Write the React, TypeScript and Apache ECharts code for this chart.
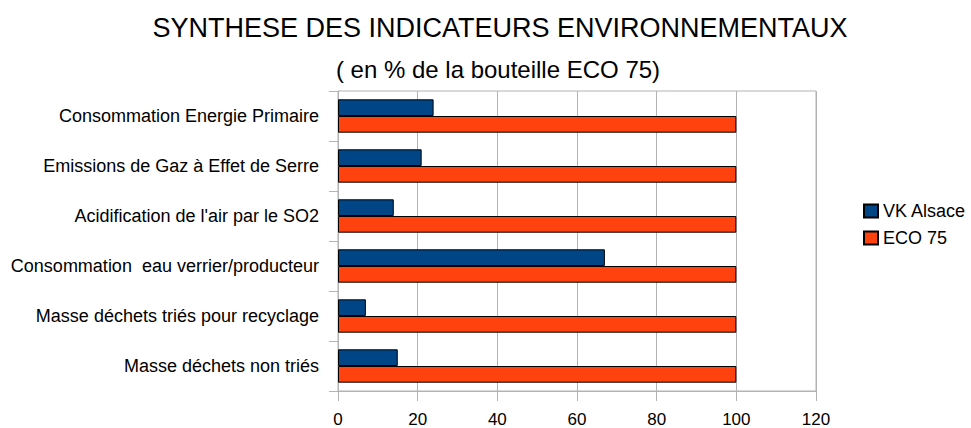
import React, { useEffect, useRef } from "react";
import * as echarts from "echarts";

const categories = [
  "Consommation Energie Primaire",
  "Emissions de Gaz à Effet de Serre",
  "Acidification de l'air par le SO2",
  "Consommation  eau verrier/producteur",
  "Masse déchets triés pour recyclage",
  "Masse déchets non triés",
];
const vkAlsace = [24, 21, 14, 67, 7, 15];
const eco75 = [100, 100, 100, 100, 100, 100];
const seriesNames = ["VK Alsace", "ECO 75"];

const FONT = "'Liberation Sans', Arial, sans-serif";

export default function App() {
  const ref = useRef<HTMLDivElement>(null);
  useEffect(() => {
    if (!ref.current) return;
    const chart = echarts.init(ref.current, null, { renderer: "svg" });
    chart.setOption({
      animation: false,
      backgroundColor: "#ffffff",
      title: [
        {
          text: "SYNTHESE DES INDICATEURS ENVIRONNEMENTAUX",
          left: 495,
          textAlign: "center",
          top: 9,
          textStyle: { fontFamily: FONT, fontSize: 27, fontWeight: "normal", color: "#000" },
        },
        {
          text: "( en % de la bouteille ECO 75)",
          left: 493,
          textAlign: "center",
          top: 52,
          textStyle: { fontFamily: FONT, fontSize: 24, fontWeight: "normal", color: "#000" },
        },
      ],
      legend: {
        orient: "vertical",
        left: 858,
        top: 197,
        itemWidth: 14,
        itemHeight: 13,
        itemGap: 9,
        icon: "rect",
        data: seriesNames,
        textStyle: { fontFamily: FONT, fontSize: 18, color: "#000" },
      },
      grid: {
        left: 338,
        top: 91,
        width: 478,
        height: 300,
        show: true,
        borderColor: "#b3b3b3",
        borderWidth: 1,
        containLabel: false,
      },
      xAxis: {
        type: "value",
        min: 0,
        max: 120,
        interval: 20,
        axisLine: { show: true, lineStyle: { color: "#b3b3b3" } },
        axisTick: { show: true, length: 10, lineStyle: { color: "#b3b3b3" } },
        splitLine: { show: true, lineStyle: { color: "#b3b3b3" } },
        axisLabel: { fontFamily: FONT, fontSize: 17, color: "#000", margin: 20 },
      },
      yAxis: {
        type: "category",
        inverse: true,
        data: categories,
        axisLine: { show: true, lineStyle: { color: "#b3b3b3" } },
        axisTick: { show: true, length: 9, lineStyle: { color: "#b3b3b3" } },
        axisLabel: { fontFamily: FONT, fontSize: 18, color: "#000", margin: 19 },
      },
      series: [
        {
          name: seriesNames[0],
          type: "bar",
          data: vkAlsace,
          barGap: "0%",
          barCategoryGap: "33.3%",
          itemStyle: { color: "#004586", borderColor: "#000", borderWidth: 1 },
        },
        {
          name: seriesNames[1],
          type: "bar",
          data: eco75,
          barGap: "0%",
          barCategoryGap: "33.3%",
          itemStyle: { color: "#ff420e", borderColor: "#000", borderWidth: 1 },
        },
      ],
    });
    return () => chart.dispose();
  }, []);
  return (
    <div
      ref={ref}
      style={{ position: "fixed", left: 0, top: 0, width: 971, height: 428 }}
    />
  );
}
